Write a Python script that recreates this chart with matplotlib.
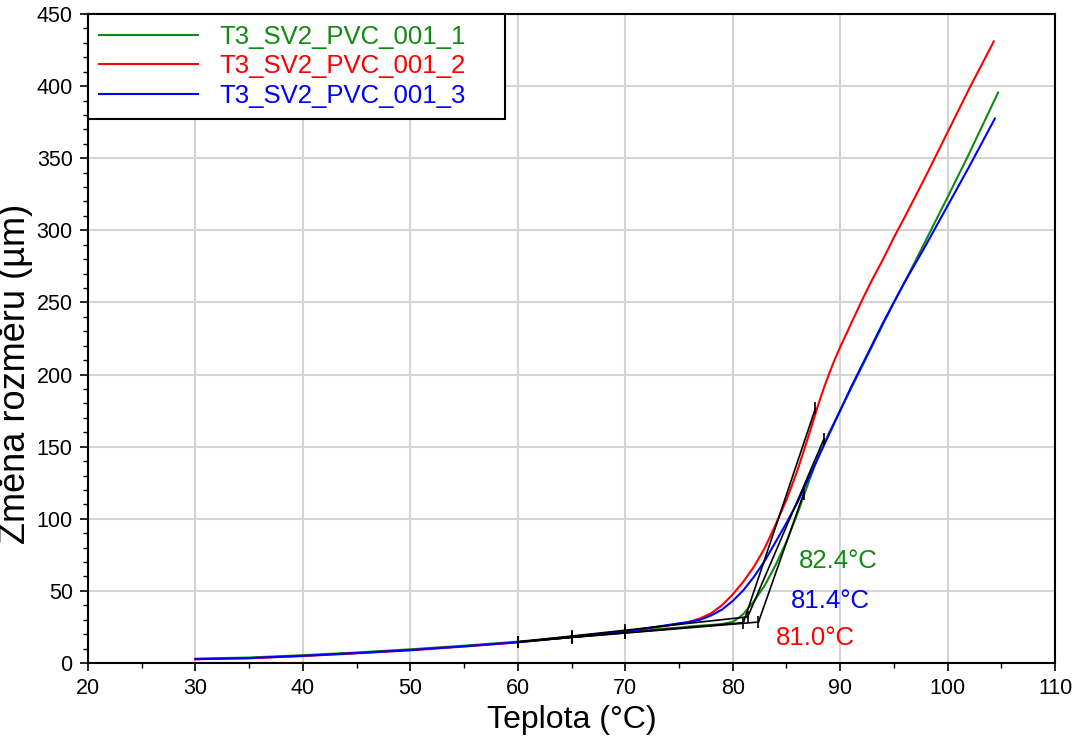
import matplotlib
matplotlib.use("Agg")
import matplotlib.pyplot as plt
from matplotlib.ticker import MultipleLocator

plt.rcParams["font.family"] = ["Liberation Sans", "DejaVu Sans"]

# sample names / colours
names = ["T3_SV2_PVC_001_1", "T3_SV2_PVC_001_2", "T3_SV2_PVC_001_3"]
colours = ["#128a12", "#ff0000", "#0000ff"]

# curve 1 (green)
temp_1 = [30, 35, 40, 45, 50, 55, 60, 65, 70, 75, 76, 77, 78, 79, 80, 80.5, 81, 82, 83, 84, 85, 86, 87, 88,
          89, 90, 91, 92, 93, 94, 95, 96, 97.5, 100, 101.8, 104.7]
dl_1 = [3.0, 3.8, 5.4, 7.3, 9.5, 12.0, 14.8, 18.3, 22.0, 24.5, 25.3, 25.9, 26.4, 27.0, 28.5, 31, 34, 43, 54, 68, 84, 103, 124, 144,
        160, 175, 190, 205, 220, 235, 250, 264, 286, 323, 350, 395.5]

# curve 2 (red)
temp_2 = [30, 35, 40, 45, 50, 55, 60, 65, 70, 75, 76, 77, 78, 79, 80, 81, 82, 83, 84, 85, 86, 87, 87.5, 88, 88.5,
          89, 89.5, 90, 91, 92, 93, 94, 95, 96, 98, 100, 102, 104.3]
dl_2 = [2.6, 3.3, 4.8, 6.7, 8.8, 11.4, 14.3, 18.0, 22.0, 27.0, 28.7, 31.0, 34.5, 40, 47.5, 56.5, 67, 80, 96, 113, 133, 156, 168, 180, 191,
        201, 210.5, 219, 235, 251, 266, 280, 295, 309, 338, 368, 398, 431]

# curve 3 (blue)
temp_3 = [30, 35, 40, 45, 50, 55, 60, 65, 70, 75, 76, 77, 78, 79, 80, 81, 82, 83, 84, 85, 86, 87, 88, 89,
          90, 91, 92, 93, 94, 95, 96, 97, 98, 100, 102, 104.4]
dl_3 = [2.7, 3.4, 5.0, 6.9, 9.0, 11.6, 14.4, 18.0, 21.8, 27.5, 28.5, 30.0, 33.0, 37, 43, 50.5, 60, 71, 84, 97, 111, 127, 143, 159,
        175, 191, 206, 221, 236, 250, 264, 277, 290, 317, 344, 377.5]

temps = [temp_1, temp_2, temp_3]
dls = [dl_1, dl_2, dl_3]

# onset evaluation (tangent construction)
onset_T = [82.4, 81.0, 81.4]
onset_v = [28.4, 28.0, 32.0]
base_T = [60, 60, 60]
base_v = [14.6, 14.6, 14.6]
top_T = [86.6, 87.7, 88.5]
top_v = [117.4, 176.5, 155.5]
range_ticks_T = [60, 65, 70]

fig = plt.figure(figsize=(10.76, 7.37), dpi=100)
ax = fig.add_axes([0.0818, 0.1004, 0.8987, 0.8806])

for T, v, c, n in zip(temps, dls, colours, names):
    ax.plot(T, v, color=c, lw=1.5, label=n, zorder=3)

for i in range(3):
    # baseline tangent
    ax.plot([base_T[i], onset_T[i]], [base_v[i], onset_v[i]], color="black", lw=1.2, zorder=4)
    # steep tangent
    ax.plot([onset_T[i], top_T[i]], [onset_v[i], top_v[i]], color="black", lw=1.2, zorder=4)
    ax.plot([onset_T[i], top_T[i]], [onset_v[i], top_v[i]], ls="none", marker="|",
            ms=9, mew=1.2, color="black", zorder=5)
    slope = (onset_v[i] - base_v[i]) / (onset_T[i] - base_T[i])
    ax.plot(range_ticks_T, [base_v[i] + slope * (t - base_T[i]) for t in range_ticks_T],
            ls="none", marker="|", ms=9, mew=1.2, color="black", zorder=5)

# onset labels (green, red, blue)
label_pos = [(89.8, 70.5), (87.7, 17.5), (89.1, 43)]
for (x, y), T, c in zip(label_pos, onset_T, colours):
    ax.text(x, y, f"{T:.1f}°C", color=c, fontsize=18.5, ha="center", va="center")

ax.set_xlim(20, 110)
ax.set_ylim(0, 450)
ax.xaxis.set_major_locator(MultipleLocator(10))
ax.xaxis.set_minor_locator(MultipleLocator(5))
ax.yaxis.set_major_locator(MultipleLocator(50))
ax.yaxis.set_minor_locator(MultipleLocator(10))
ax.tick_params(which="major", direction="out", length=6, width=1.2, labelsize=15.5, pad=5)
ax.tick_params(which="minor", direction="out", length=3.6, width=1.0)
ax.grid(which="major", color="#d4d4d4", lw=1.5, zorder=0)
ax.set_axisbelow(True)
for s in ax.spines.values():
    s.set_linewidth(1.5)

ax.set_xlabel("Teplota (°C)", fontsize=23, labelpad=4)
ax.set_ylabel("Změna rozměru (µm)", fontsize=26)
ax.yaxis.set_label_coords(-0.057, 0.445)

leg = ax.legend(loc="upper left", bbox_to_anchor=(0, 1, 0.431, 0), mode="expand", borderaxespad=0,
                fancybox=False, edgecolor="black", framealpha=1, fontsize=18.5, handlelength=3.85,
                handletextpad=0.85, labelspacing=0.22, labelcolor="linecolor", borderpad=0.42)
leg.get_frame().set_linewidth(1.5)

fig.savefig("out.png", dpi=100)
